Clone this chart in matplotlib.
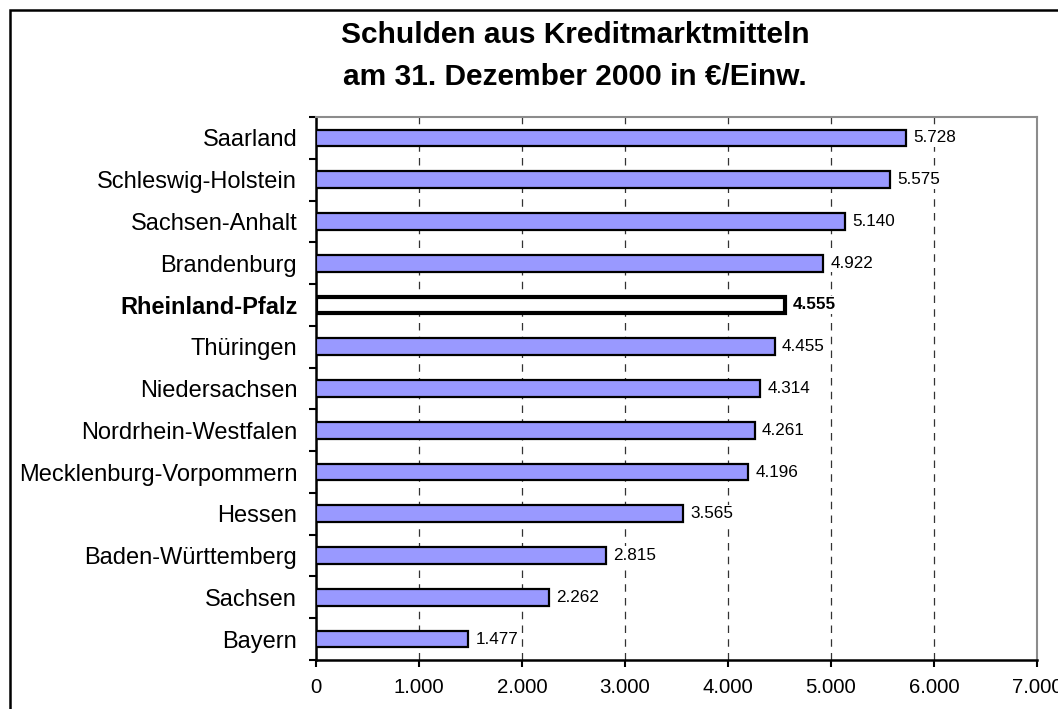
import matplotlib
matplotlib.use("Agg")
import matplotlib.pyplot as plt
from matplotlib.patches import Rectangle
from matplotlib.ticker import FixedLocator, FuncFormatter

plt.rcParams['font.family'] = ['Liberation Sans', 'DejaVu Sans']

laender = ["Saarland", "Schleswig-Holstein", "Sachsen-Anhalt", "Brandenburg",
           "Rheinland-Pfalz", "Thüringen", "Niedersachsen", "Nordrhein-Westfalen",
           "Mecklenburg-Vorpommern", "Hessen", "Baden-Württemberg", "Sachsen", "Bayern"]
schulden = [5728, 5575, 5140, 4922, 4555, 4455, 4314, 4261, 4196, 3565, 2815, 2262, 1477]
highlight = "Rheinland-Pfalz"
x_ticks = [0, 1000, 2000, 3000, 4000, 5000, 6000, 7000]
title_lines = ["Schulden aus Kreditmarktmitteln", "am 31. Dezember 2000 in €/Einw."]


def de(v):
    return f"{v:,.0f}".replace(",", ".")


W, H = 1058, 709
fig = plt.figure(figsize=(W / 100, H / 100), dpi=100)
fig.patch.set_facecolor("white")

# outer frame (extends past right/bottom edges)
fig.patches.append(Rectangle((10 / W, -20 / H), 2.0, (H - 10 + 20) / H,
                             transform=fig.transFigure, fill=False,
                             edgecolor="black", linewidth=1.8, zorder=0))

left, right, top, bottom = 316, 1037, 117, 660
ax = fig.add_axes([left / W, (H - bottom) / H, (right - left) / W, (bottom - top) / H])

label_box = dict(boxstyle="square,pad=0.1", facecolor="white", edgecolor="none")

n = len(laender)
ypos = list(range(n))[::-1]  # Saarland on top
for y, name, v in zip(ypos, laender, schulden):
    if name == highlight:
        ax.barh(y, v, height=0.4, color="white", edgecolor="black", linewidth=3, zorder=3)
        ax.text(v + 70, y, de(v), va="center", ha="left", fontsize=12.3,
                fontweight="bold", zorder=4, bbox=label_box)
    else:
        ax.barh(y, v, height=0.4, color="#9999FF", edgecolor="black", linewidth=1.6, zorder=3)
        ax.text(v + 70, y, de(v), va="center", ha="left", fontsize=12.3, zorder=4,
                bbox=label_box)

ax.set_xlim(0, 7000)
ax.set_ylim(-0.5, n - 0.5)

ax.set_yticks(ypos)
ax.set_yticklabels(laender, fontsize=17)
for lbl in ax.get_yticklabels():
    if lbl.get_text() == highlight:
        lbl.set_fontweight("bold")
ax.tick_params(axis="y", which="major", length=0, pad=13.5)
ax.yaxis.set_minor_locator(FixedLocator([i - 0.5 for i in range(n + 1)]))
ax.tick_params(axis="y", which="minor", length=5, width=1.5, direction="out", color="black")

ax.set_xticks(x_ticks)
ax.xaxis.set_major_formatter(FuncFormatter(lambda v, p: de(v)))
ax.tick_params(axis="x", which="major", length=5, width=1.5, direction="out",
               labelsize=14.7, pad=8)

ax.grid(axis="x", color="#333333", linestyle=(0, (6, 5)), linewidth=0.9, zorder=1)
ax.grid(axis="y", visible=False)
ax.set_axisbelow(True)

for s in ["left", "bottom"]:
    ax.spines[s].set_color("black")
    ax.spines[s].set_linewidth(1.8)
for s in ["top", "right"]:
    ax.spines[s].set_color("#8c8c8c")
    ax.spines[s].set_linewidth(1.5)

cx = 575 / W
fig.text(cx, (H - 35) / H, title_lines[0], ha="center", va="center",
         fontsize=21.5, fontweight="bold")
fig.text(cx, (H - 77) / H, title_lines[1], ha="center", va="center",
         fontsize=21.5, fontweight="bold")

fig.savefig("out.png", dpi=100)
